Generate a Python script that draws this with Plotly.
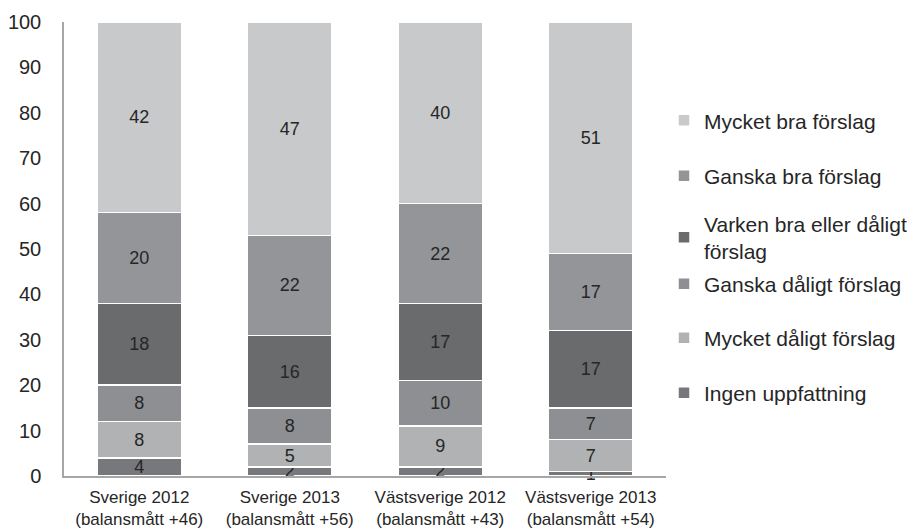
import plotly.graph_objects as go

categories = [
    "Sverige 2012<br>(balansmått +46)",
    "Sverige 2013<br>(balansmått +56)",
    "Västsverige 2012<br>(balansmått +43)",
    "Västsverige 2013<br>(balansmått +54)",
]
series_names = [
    "Ingen uppfattning",
    "Mycket dåligt förslag",
    "Ganska dåligt förslag",
    "Varken bra eller dåligt<br>förslag",
    "Ganska bra förslag",
    "Mycket bra förslag",
]
ingen = [4, 2, 2, 1]
mycket_daligt = [8, 5, 9, 7]
ganska_daligt = [8, 8, 10, 7]
varken = [18, 16, 17, 17]
ganska_bra = [20, 22, 22, 17]
mycket_bra = [42, 47, 40, 51]
series_values = [ingen, mycket_daligt, ganska_daligt, varken, ganska_bra, mycket_bra]
colors = ["#77787b", "#b1b2b4", "#8e8f92", "#6a6b6d", "#939598", "#c8c9cb"]
y_ticks = [0, 10, 20, 30, 40, 50, 60, 70, 80, 90, 100]

FONT = "Liberation Sans, Arial, sans-serif"

# legend item centres (px from top, page offset compensated), bottom series first
legend_y_px = [385, 330, 276, 229.5, 168, 112.7]

fig = go.Figure()
for i, (name, vals, col) in enumerate(zip(series_names, series_values, colors)):
    lg = "legend" if i == 0 else f"legend{i+1}"
    fig.add_trace(go.Bar(
        x=categories, y=vals, name=name,
        marker=dict(color=col, line=dict(color="white", width=1.5)),
        text=[str(v) for v in vals],
        textposition="inside",
        insidetextanchor="middle",
        textangle=0,
        textfont=dict(family=FONT, size=18, color="#262626"),
        cliponaxis=False,
        legend=lg,
        hoverinfo="skip",
    ))

H = 532
W = 915
layout_legends = {}
for i in range(6):
    lg = "legend" if i == 0 else f"legend{i+1}"
    ypx = legend_y_px[i]
    layout_legends[lg] = dict(
        x=656 / W, xref="container", xanchor="left",
        y=1 - ypx / H, yref="container", yanchor="middle",
        font=dict(family=FONT, size=21, color="#262626"),
        bgcolor="rgba(0,0,0,0)",
        borderwidth=0,
    )

fig.update_layout(
    width=W, height=H,
    barmode="stack",
    bargap=0.44,
    paper_bgcolor="white", plot_bgcolor="white",
    margin=dict(l=56, r=257, t=14, b=63.5, autoexpand=False),
    font=dict(family=FONT, size=17, color="#262626"),
    uniformtext=dict(minsize=18, mode="show"),
    showlegend=True,
    xaxis=dict(
        showline=True, linecolor="#a6a6a6", linewidth=1.5,
        ticks="", showgrid=False,
        ticklabelstandoff=5,
        tickfont=dict(family=FONT, size=17, color="#262626"),
    ),
    yaxis=dict(
        range=[0, 100], tickvals=y_ticks,
        showline=True, linecolor="#a6a6a6", linewidth=1.5,
        showgrid=False, zeroline=False, ticks="",
        ticklabelstandoff=17,
        tickfont=dict(family=FONT, size=20, color="#262626"),
    ),
    **layout_legends,
)

fig.write_html("out.html")
